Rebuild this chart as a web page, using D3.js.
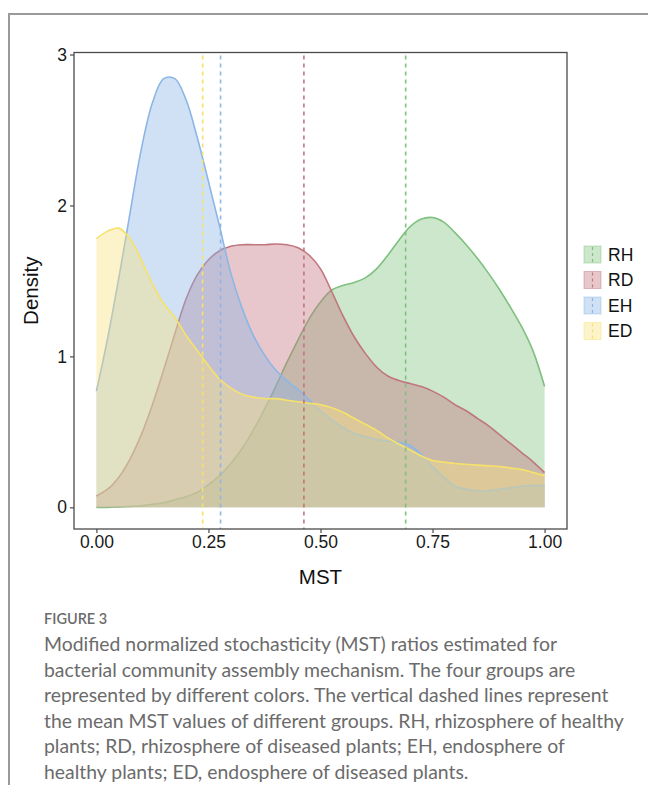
<!DOCTYPE html>
<html>
<head>
<meta charset="utf-8">
<script src="https://cdn.jsdelivr.net/npm/d3@7"></script>
<style>
  body { margin: 0; background: #fff; }
  text { font-family: "Liberation Sans", Arial, sans-serif; }
  .caption { font-family: Lato, "Open Sans", sans-serif; }
</style>
</head>
<body>
<svg id="chart" width="648" height="785"></svg>
<script>
const mst = [0, 0.025, 0.05, 0.075, 0.1, 0.125, 0.15, 0.175, 0.2, 0.225,
  0.25, 0.275, 0.3, 0.325, 0.35, 0.375, 0.4, 0.425, 0.45, 0.475,
  0.5, 0.525, 0.55, 0.575, 0.6, 0.625, 0.65, 0.675, 0.7, 0.725,
  0.75, 0.775, 0.8, 0.825, 0.85, 0.875, 0.9, 0.925, 0.95, 0.975, 1];
const groups = ['RH', 'RD', 'EH', 'ED'];
const rhDensity = [0, 0, 0.003, 0.006, 0.01, 0.02, 0.03, 0.05, 0.07, 0.10,
  0.15, 0.21, 0.29, 0.39, 0.51, 0.65, 0.80, 0.96, 1.11, 1.25,
  1.36, 1.44, 1.47, 1.49, 1.52, 1.58, 1.67, 1.77, 1.86, 1.91,
  1.92, 1.89, 1.82, 1.74, 1.65, 1.55, 1.44, 1.32, 1.19, 1.03, 0.80];
const rdDensity = [0.075, 0.12, 0.20, 0.32, 0.48, 0.68, 0.91, 1.15, 1.38, 1.54,
  1.64, 1.70, 1.73, 1.74, 1.74, 1.74, 1.745, 1.74, 1.72, 1.67,
  1.58, 1.43, 1.27, 1.13, 1.02, 0.93, 0.87, 0.84, 0.82, 0.80,
  0.77, 0.73, 0.68, 0.64, 0.59, 0.54, 0.48, 0.42, 0.36, 0.30, 0.23];
const ehDensity = [0.77, 1.12, 1.52, 1.95, 2.37, 2.68, 2.84, 2.84, 2.70, 2.45,
  2.16, 1.86, 1.55, 1.32, 1.14, 1.01, 0.91, 0.84, 0.78, 0.71,
  0.64, 0.58, 0.53, 0.49, 0.47, 0.45, 0.44, 0.43, 0.41, 0.35,
  0.27, 0.20, 0.14, 0.12, 0.11, 0.11, 0.12, 0.13, 0.14, 0.145, 0.145];
const edDensity = [1.78, 1.83, 1.85, 1.78, 1.64, 1.48, 1.35, 1.26, 1.14, 1.04,
  0.94, 0.85, 0.79, 0.75, 0.73, 0.72, 0.72, 0.71, 0.70, 0.69,
  0.68, 0.66, 0.63, 0.59, 0.55, 0.51, 0.46, 0.42, 0.38, 0.34,
  0.31, 0.30, 0.29, 0.285, 0.28, 0.275, 0.27, 0.26, 0.25, 0.23, 0.21];
const groupMeans = [0.690, 0.463, 0.277, 0.237];
const xTicks = [0, 0.25, 0.5, 0.75, 1];
const yTicks = [0, 1, 2, 3];
const captionTitle = 'FIGURE 3';
const captionLines = [
  'Modified normalized stochasticity (MST) ratios estimated for',
  'bacterial community assembly mechanism. The four groups are',
  'represented by different colors. The vertical dashed lines represent',
  'the mean MST values of different groups. RH, rhizosphere of healthy',
  'plants; RD, rhizosphere of diseased plants; EH, endosphere of',
  'healthy plants; ED, endosphere of diseased plants.'
];

const lineColor = { RH: '#7fc07f', RD: '#c0767e', EH: '#8cb6e6', ED: '#f6e26a' };
const fillColor = { RH: '#7fc47f', RD: '#c2737c', EH: '#8ab4e6', ED: '#f9e27a' };

const densities = [rhDensity, rdDensity, ehDensity, edDensity];
const series = groups.map((g, i) => ({
  group: g,
  mean: groupMeans[i],
  values: mst.map((m, j) => ({ x: m, y: densities[i][j] }))
}));

const svg = d3.select('#chart');

// article frame
svg.append('path')
  .attr('d', 'M9,785 V14 H648')
  .attr('fill', 'none')
  .attr('stroke', '#9a9a9a')
  .attr('stroke-width', 2);

const panel = { left: 74, right: 567, top: 52.5, bottom: 529 };

const x = d3.scaleLinear().domain([-0.05, 1.05]).range([panel.left, panel.right]);
const y = d3.scaleLinear().domain([-0.1435, 3.0135]).range([panel.bottom, panel.top]);

const curve = d3.curveCatmullRom.alpha(0.5);

const area = d3.area()
  .x(d => x(d.x))
  .y0(y(0))
  .y1(d => y(Math.max(0, d.y)))
  .curve(curve);

const line = d3.line()
  .x(d => x(d.x))
  .y(d => y(d.y))
  .curve(curve);

const plot = svg.append('g');

series.forEach(s => {
  plot.append('path')
    .datum(s.values)
    .attr('d', area)
    .attr('fill', fillColor[s.group])
    .attr('fill-opacity', 0.4);
  plot.append('path')
    .datum(s.values)
    .attr('d', line)
    .attr('fill', 'none')
    .attr('stroke', lineColor[s.group])
    .attr('stroke-width', 1.6);
});

plot.selectAll('line.mean')
  .data(series)
  .enter()
  .append('line')
  .attr('class', 'mean')
  .attr('x1', d => x(d.mean))
  .attr('x2', d => x(d.mean))
  .attr('y1', panel.top)
  .attr('y2', panel.bottom)
  .attr('stroke', d => lineColor[d.group])
  .attr('stroke-width', 1.6)
  .attr('stroke-dasharray', '4,4')
  .attr('stroke-dashoffset', -3);

// panel border
svg.append('rect')
  .attr('x', panel.left)
  .attr('y', panel.top)
  .attr('width', panel.right - panel.left)
  .attr('height', panel.bottom - panel.top)
  .attr('fill', 'none')
  .attr('stroke', '#4a4a4a')
  .attr('stroke-width', 1.3);

const xAxis = svg.append('g')
  .attr('transform', `translate(0,${panel.bottom})`)
  .call(d3.axisBottom(x).tickValues(xTicks).tickFormat(d3.format('.2f')).tickSize(4).tickPadding(3));
const yAxis = svg.append('g')
  .attr('transform', `translate(${panel.left},0)`)
  .call(d3.axisLeft(y).tickValues(yTicks).tickFormat(d3.format('d')).tickSize(4).tickPadding(3));

[xAxis, yAxis].forEach(a => {
  a.select('.domain').remove();
  a.selectAll('.tick line').attr('stroke', '#4a4a4a').attr('stroke-width', 1.2);
  a.selectAll('.tick text')
    .attr('fill', '#1a1a1a')
    .style('font-family', '"Liberation Sans", Arial, sans-serif')
    .style('font-size', '17.5px');
});

svg.append('text')
  .attr('x', x(0.5))
  .attr('y', 584)
  .attr('text-anchor', 'middle')
  .attr('fill', '#111')
  .style('font-size', '20.5px')
  .text('MST');

svg.append('text')
  .attr('transform', `translate(38,${(panel.top + panel.bottom) / 2}) rotate(-90)`)
  .attr('text-anchor', 'middle')
  .attr('fill', '#111')
  .style('font-size', '20.5px')
  .text('Density');

// legend
const legend = svg.append('g')
  .attr('transform', 'translate(584,246)');
const items = legend.selectAll('g')
  .data(series)
  .enter()
  .append('g')
  .attr('transform', (d, i) => `translate(0,${i * 25.5})`);
items.append('rect')
  .attr('width', 17)
  .attr('height', 17)
  .attr('fill', d => fillColor[d.group])
  .attr('fill-opacity', 0.4)
  .attr('stroke', d => lineColor[d.group])
  .attr('stroke-opacity', 0.45);
items.append('line')
  .attr('x1', 8.5).attr('x2', 8.5)
  .attr('y1', 1).attr('y2', 16)
  .attr('stroke', d => lineColor[d.group])
  .attr('stroke-width', 1.2)
  .attr('stroke-dasharray', '3,3');
items.append('text')
  .attr('x', 24)
  .attr('y', 8.5)
  .attr('dy', '0.36em')
  .attr('fill', '#111')
  .style('font-size', '17.5px')
  .text(d => d.group);

// caption
svg.append('text')
  .attr('class', 'caption')
  .attr('x', 44)
  .attr('y', 624)
  .attr('fill', '#6b6b6b')
  .style('font-size', '14.5px')
  .style('font-weight', 600)
  .text(captionTitle);

svg.append('g')
  .selectAll('text')
  .data(captionLines)
  .enter()
  .append('text')
  .attr('class', 'caption')
  .attr('x', 44)
  .attr('y', (d, i) => 651 + i * 25.5)
  .attr('fill', '#6b6b6b')
  .style('font-size', '19.4px')
  .text(d => d);
</script>
</body>
</html>
